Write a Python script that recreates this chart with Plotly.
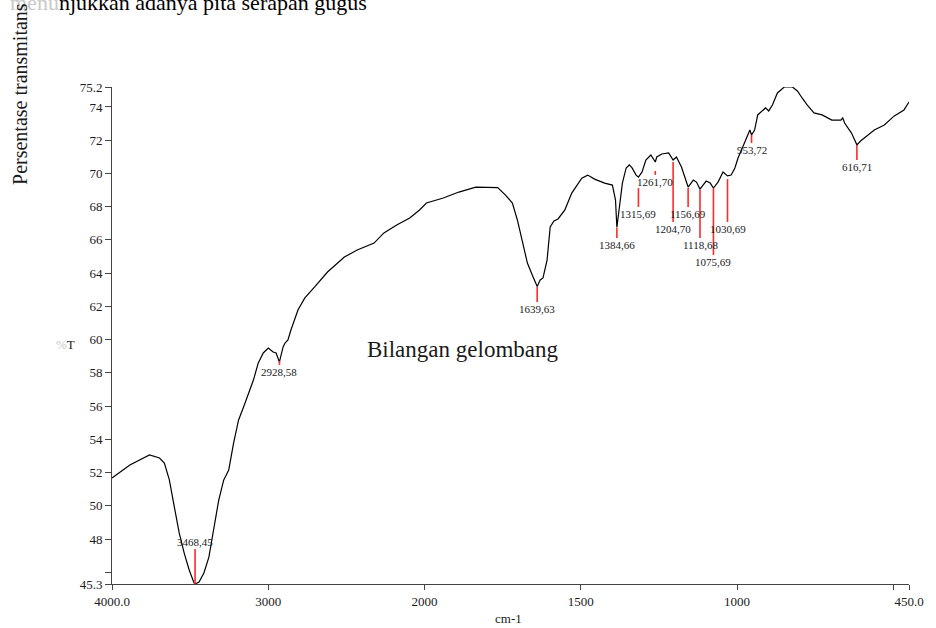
import plotly.graph_objects as go

# FTIR spectrum: wavenumber (cm-1) and percent transmittance
WAVENUMBER = [
    4000, 3886, 3760, 3696, 3665, 3633, 3601, 3570, 3538, 3506, 3475, 3468.45,
    3443, 3412, 3380, 3348, 3317, 3285, 3253, 3222, 3190, 3158, 3127, 3095,
    3064, 3032, 3000, 2969, 2950, 2928.58, 2905, 2893, 2874, 2855, 2810, 2766,
    2703, 2621, 2513, 2431, 2323, 2260, 2178, 2095, 2032, 1994, 1940, 1890,
    1836, 1795, 1766, 1741, 1719, 1703, 1687, 1671, 1655, 1646, 1639.63, 1630,
    1621, 1608, 1598, 1586, 1573, 1551, 1529, 1497, 1478, 1456, 1424, 1399,
    1389, 1384.66, 1377, 1367, 1355, 1345, 1336, 1323, 1315.69, 1304, 1292,
    1276, 1261.70, 1257, 1241, 1219, 1204.70, 1194, 1178, 1156.69, 1140, 1130,
    1118.68, 1108, 1099, 1086, 1075.69, 1061, 1045, 1030.69, 1019, 1007, 997,
    982, 972, 959, 953.72, 944, 934, 918, 909, 899, 887, 871, 849, 823, 807,
    792, 776, 754, 728, 697, 668, 662, 656, 634, 616.71, 605, 592, 561, 529,
    497, 466, 453, 450,
]
TRANSMITTANCE = [
    51.68, 52.46, 53.06, 52.88, 52.58, 51.56, 49.93, 48.37, 47.16, 46.14, 45.36, 45.30,
    45.42, 45.96, 46.92, 48.55, 50.35, 51.56, 52.16, 53.78, 55.17, 55.95, 56.79, 57.57,
    58.60, 59.20, 59.50, 59.26, 59.20, 58.66, 59.56, 59.80, 59.98, 60.58, 61.78, 62.51,
    63.17, 64.07, 64.97, 65.39, 65.81, 66.42, 66.90, 67.32, 67.80, 68.22, 68.52, 68.88,
    69.18, 69.18, 69.15, 68.70, 68.22, 67.20, 65.81, 64.61, 63.88, 63.47, 63.20, 63.59,
    63.71, 64.79, 66.78, 67.14, 67.26, 67.81, 68.82, 69.72, 69.90, 69.66, 69.42, 69.30,
    68.39, 66.75, 67.98, 69.42, 70.33, 70.51, 70.33, 69.90, 69.78, 70.09, 70.81,
    71.11, 70.69, 70.99, 71.17, 71.23, 70.81, 70.99, 70.39, 69.18, 69.60, 69.48,
    69.06, 69.30, 69.54, 69.42, 69.12, 69.48, 70.09, 69.85, 69.90, 70.33, 70.93,
    71.59, 72.01, 72.61, 72.31, 72.61, 73.52, 73.82, 73.94, 73.76, 74.12, 74.84, 75.20, 75.20, 74.96,
    74.54, 74.12, 73.64, 73.52, 73.21, 73.21, 73.34, 73.03, 72.43, 71.72, 71.95, 72.13, 72.61, 72.91,
    73.46, 73.82, 74.24, 74.30,
]

# Labelled absorption bands
PEAK_WAVENUMBER = [3468.45, 2928.58, 1639.63, 1384.66, 1315.69, 1261.70, 1204.70,
                   1156.69, 1118.68, 1075.69, 1030.69, 953.72, 616.71]
PEAK_LABEL = ["3468,45", "2928,58", "1639,63", "1384,66", "1315,69", "1261,70", "1204,70",
              "1156,69", "1118,68", "1075,69", "1030,69", "953,72", "616,71"]

# Marker stem extents (%T, start -> end); the first stem rises above its band
STEM_SPANS = [(45.30, 47.41), (58.72, 58.48), (63.17, 62.27), (66.72, 66.12),
              (69.12, 67.98), (70.15, 69.91), (70.69, 67.08), (69.12, 67.98),
              (69.00, 66.12), (69.12, 65.09), (69.66, 67.08), (72.31, 71.83),
              (71.71, 70.81)]

X_TICKS = [4000, 3000, 2000, 1500, 1000, 500, 450]
X_TICK_TEXT = ["4000.0", "3000", "2000", "1500", "1000", "", "450.0"]
Y_TICKS = [45.3, 46, 48, 50, 52, 54, 56, 58, 60, 62, 64, 66, 68, 70, 72, 74, 75.2]
Y_TICK_TEXT = ["45.3", "", "48", "50", "52", "54", "56", "58", "60", "62", "64",
               "66", "68", "70", "72", "74", "75.2"]


def to_axis(w):
    """Instrument abscissa: half scale above 2000 cm-1, full scale below."""
    return (4000 - w) / 2 if w >= 2000 else 1000 + (2000 - w)


SERIF = "Liberation Serif, Times New Roman, serif"
INK = "#1a1a1a"

fig = go.Figure()
fig.add_trace(go.Scatter(
    x=[to_axis(w) for w in WAVENUMBER], y=TRANSMITTANCE,
    mode="lines", line=dict(color="black", width=1.2), hoverinfo="skip",
    showlegend=False,
))

annotations = []
for w, lab, (y0, y1) in zip(PEAK_WAVENUMBER, PEAK_LABEL, STEM_SPANS):
    xv = to_axis(w)
    fig.add_shape(type="line", x0=xv, x1=xv, y0=y0, y1=y1, xref="x", yref="y",
                  line=dict(color="#ff2a2a", width=1.6))
    up = y1 > y0
    annotations.append(dict(
        x=xv, y=y1, xref="x", yref="y", text=lab, showarrow=False,
        yanchor="bottom" if up else "top", xanchor="center",
        font=dict(family=SERIF, size=11, color=INK), borderpad=0,
    ))

annotations += [
    dict(text='<span style="color:#c9c9c9">menu</span>njukkan adanya pita serapan gugus',
         xref="paper", yref="paper", x=-0.131, y=1.141, xanchor="left", yanchor="bottom",
         showarrow=False, font=dict(family=SERIF, size=22, color="black")),
    dict(text="Persentase transmitans", textangle=-90,
         xref="paper", yref="paper", x=-0.1154, y=0.986, xanchor="center", yanchor="middle",
         showarrow=False, font=dict(family=SERIF, size=20, color=INK)),
    dict(text='<span style="color:#c9c9c9">%</span>T',
         xref="paper", yref="paper", x=-0.058, y=0.481, xanchor="center", yanchor="middle",
         showarrow=False, font=dict(family=SERIF, size=13, color=INK)),
    dict(text="Bilangan gelombang",
         xref="paper", yref="paper", x=0.440, y=0.471, xanchor="center", yanchor="middle",
         showarrow=False, font=dict(family=SERIF, size=23, color=INK)),
    dict(text="cm-1",
         xref="paper", yref="paper", x=0.497, y=-0.069, xanchor="center", yanchor="middle",
         showarrow=False, font=dict(family=SERIF, size=13, color=INK)),
]

fig.update_layout(
    width=936, height=628,
    margin=dict(l=112, r=18, t=87, b=44),
    paper_bgcolor="white", plot_bgcolor="white",
    annotations=annotations,
    xaxis=dict(
        range=[0, to_axis(450)],
        tickvals=[to_axis(v) for v in X_TICKS], ticktext=X_TICK_TEXT,
        ticks="outside", ticklen=5, tickcolor="#444", showgrid=False, zeroline=False,
        showline=True, linecolor="#444", linewidth=1,
        tickfont=dict(family=SERIF, size=13, color=INK),
    ),
    yaxis=dict(
        range=[45.3, 75.2],
        tickvals=Y_TICKS, ticktext=Y_TICK_TEXT,
        ticks="outside", ticklen=6, tickcolor="#444", showgrid=False, zeroline=False,
        showline=True, linecolor="#444", linewidth=1,
        tickfont=dict(family=SERIF, size=13, color=INK),
    ),
)

fig.write_html("out.html")
